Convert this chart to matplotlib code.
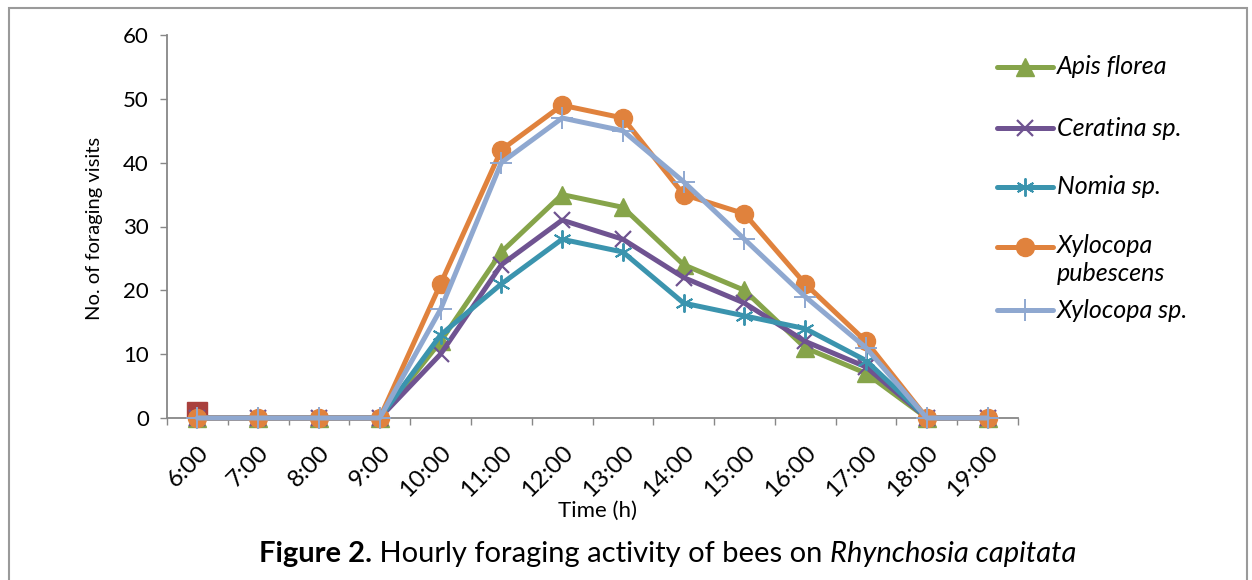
import matplotlib
matplotlib.use("Agg")
import matplotlib.pyplot as plt
from matplotlib.lines import Line2D
from matplotlib.patches import Rectangle

# ---- Data ----
hours = ["6:00", "7:00", "8:00", "9:00", "10:00", "11:00", "12:00",
         "13:00", "14:00", "15:00", "16:00", "17:00", "18:00", "19:00"]
apis_florea = [0, 0, 0, 0, 12, 26, 35, 33, 24, 20, 11, 7, 0, 0]
ceratina = [0, 0, 0, 0, 10, 24, 31, 28, 22, 18, 12, 8, 0, 0]
nomia = [0, 0, 0, 0, 13, 21, 28, 26, 18, 16, 14, 9, 0, 0]
xylocopa_pubescens = [0, 0, 0, 0, 21, 42, 49, 47, 35, 32, 21, 12, 0, 0]
xylocopa_sp = [0, 0, 0, 0, 17, 40, 47, 45, 37, 28, 19, 11, 0, 0]
stray_point = [1]  # lone red square at 6:00 (unlabelled series)

series_labels = ["Apis florea", "Ceratina sp.", "Nomia sp.",
                 "Xylocopa\npubescens", "Xylocopa sp."]

# (colour, marker, markersize, marker edge width)
STYLES = [
    ("#86a44a", "^", 13, 1.0),
    ("#6f5391", "x", 12, 1.6),
    ("#3b94ae", (6, 2, 0), 13, 1.4),
    ("#e0823d", "o", 13, 1.0),
    ("#8fa8d0", "+", 16, 1.4),
]

FONT = ["Lato", "DejaVu Sans"]
plt.rcParams["font.family"] = FONT
AXIS_GREY = "#878787"
W, H = 1252, 580

fig = plt.figure(figsize=(W / 100, H / 100), dpi=100)
ax = fig.add_axes([167 / W, 1 - 418 / H, (1018 - 167) / W, (418 - 35) / H])

x = list(range(len(hours)))
ax.plot([0], stray_point, linestyle="none", marker="s", markersize=14,
        color="#a9403d", zorder=1)

all_series = [apis_florea, ceratina, nomia, xylocopa_pubescens, xylocopa_sp]
for i, vals in enumerate(all_series):
    col, mk, ms, mew = STYLES[i]
    ax.plot(x, vals, color=col, linewidth=3.6, marker=mk,
            markersize=ms, markeredgewidth=mew, markeredgecolor=col,
            markerfacecolor=col, solid_capstyle="round", zorder=2 + i,
            clip_on=False)

ax.set_xlim(-0.5, len(hours) - 0.5)
ax.set_ylim(0, 60)
ax.set_yticks(range(0, 61, 10))
ax.tick_params(axis="y", labelsize=16, length=5, width=1, color=AXIS_GREY, pad=8)
ax.set_xticks(x)
ax.set_xticklabels(hours, rotation=45, ha="right", rotation_mode="anchor",
                   fontsize=17.5)
ax.set_xticks([v - 0.5 for v in range(len(hours) + 1)], minor=True)
ax.tick_params(axis="x", which="major", length=0, pad=17)
ax.tick_params(axis="x", which="minor", length=5, width=1, color=AXIS_GREY)
for side in ("top", "right"):
    ax.spines[side].set_visible(False)
for side in ("left", "bottom"):
    ax.spines[side].set_color(AXIS_GREY)
    ax.spines[side].set_linewidth(1.3)

ax.set_ylabel("No. of foraging visits", fontsize=14.5)
ax.yaxis.set_label_coords((103 - 167) / (1018 - 167), (418 - 228) / (418 - 35))
ax.set_xlabel("Time (h)", fontsize=16)
ax.xaxis.set_label_coords((597 - 167) / (1018 - 167), -(511 - 418) / (418 - 35))
ax.xaxis.label.set_va("center")

# ---- Legend (drawn by hand to match Excel spacing) ----
leg_rows = [67, 128, 187, 247, 310]
for i, label in enumerate(series_labels):
    col, mk, ms, mew = STYLES[i]
    yf = 1 - leg_rows[i] / H
    fig.add_artist(Line2D([997 / W, 1053 / W], [yf, yf],
                          transform=fig.transFigure, color=col, linewidth=3.6,
                          solid_capstyle="round"))
    fig.add_artist(Line2D([1025 / W], [yf], transform=fig.transFigure,
                          color=col, marker=mk, markersize=ms,
                          markeredgewidth=mew, linestyle="none"))
    if "\n" in label:
        fig.text(1057 / W, yf + 13 / H, label, fontsize=18, style="italic",
                 ha="left", va="top", linespacing=1.25)
    else:
        fig.text(1057 / W, yf, label, fontsize=18, style="italic",
                 ha="left", va="center")

# ---- Caption with mixed styles ----
renderer = fig.canvas.get_renderer()
parts = [("Figure 2.", "bold", "normal"),
         (" Hourly foraging activity of bees on ", "normal", "normal"),
         ("Rhynchosia capitata", "normal", "italic")]
cap_y = 1 - 562 / H
texts = []
for s, wt, st in parts:
    t = fig.text(0, cap_y, s, fontsize=21, fontweight=wt, style=st,
                 ha="left", va="baseline")
    texts.append(t)
widths = [t.get_window_extent(renderer).width for t in texts]
start = 668 - sum(widths) / 2
for t, w in zip(texts, widths):
    t.set_x(start / W)
    start += w

# ---- Outer frame ----
fig.add_artist(Rectangle((9 / W, -0.05), (1247 - 9) / W, 1.05 - 8 / H,
                         transform=fig.transFigure, fill=False,
                         edgecolor="#9a9a9a", linewidth=1.5))

fig.savefig("out.png", dpi=100)
